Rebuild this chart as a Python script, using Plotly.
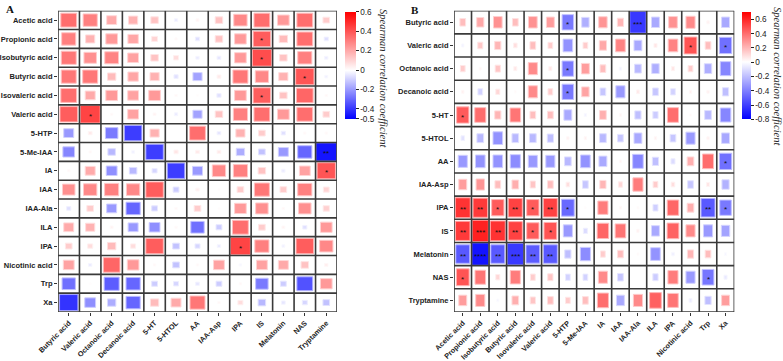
import plotly.graph_objects as go

# ---------------- Panel A data ----------------
a_rows = ["Acetic acid", "Propionic acid", "Isobutyric acid", "Butyric acid", "Isovaleric acid",
          "Valeric acid", "5-HTP", "5-Me-IAA", "IA", "IAA", "IAA-Ala", "ILA", "IPA",
          "Nicotinic acid", "Trp", "Xa"]
a_cols = ["Butyric acid", "Valeric acid", "Octanoic acid", "Decanoic acid", "5-HT", "5-HTOL",
          "AA", "IAA-Asp", "IPA", "IS", "Melatonin", "NAS", "Tryptamine"]
a_values = [
    [0.34, 0.30, 0.20, 0.18, 0.14, -0.04, 0.03, 0.14, 0.28, 0.34, 0.24, 0.34, 0.12],
    [0.30, 0.18, 0.24, 0.21, 0.10, 0.02, -0.06, 0.14, 0.24, 0.38, 0.16, 0.34, -0.06],
    [0.32, 0.26, 0.29, 0.22, 0.14, 0.08, -0.04, -0.05, 0.24, 0.42, 0.14, 0.30, -0.04],
    [0.32, 0.32, 0.16, 0.21, 0.18, -0.06, -0.18, 0.05, 0.32, 0.28, 0.18, 0.40, -0.03],
    [0.34, 0.20, 0.24, 0.22, 0.24, 0.02, 0.01, -0.06, 0.24, 0.38, 0.14, 0.36, 0.02],
    [0.38, 0.44, 0.02, 0.22, 0.03, -0.04, -0.18, 0.14, 0.30, 0.34, 0.24, 0.34, 0.12],
    [-0.20, 0.05, -0.26, -0.38, 0.18, 0.00, 0.34, -0.05, 0.18, 0.12, -0.06, 0.02, 0.02],
    [-0.24, 0.02, -0.14, -0.03, -0.38, 0.06, 0.05, 0.05, -0.16, -0.12, -0.20, -0.30, -0.46],
    [0.02, 0.20, -0.22, -0.14, -0.08, -0.38, -0.20, 0.28, 0.30, 0.14, -0.04, 0.22, 0.40],
    [0.26, 0.28, 0.30, 0.28, 0.38, -0.10, 0.04, 0.01, 0.12, 0.32, 0.12, 0.30, 0.10],
    [-0.06, 0.12, -0.20, -0.30, -0.10, 0.02, 0.12, 0.01, 0.24, 0.26, 0.02, 0.26, 0.11],
    [0.20, 0.18, 0.03, -0.20, -0.22, 0.02, -0.28, -0.10, 0.34, 0.12, 0.03, -0.06, 0.24],
    [0.12, 0.08, 0.16, 0.08, 0.38, -0.12, -0.08, -0.04, 0.44, 0.30, -0.03, 0.38, 0.28],
    [0.22, -0.04, 0.36, 0.24, 0.02, -0.12, 0.02, 0.22, -0.02, 0.22, 0.20, 0.14, 0.04],
    [-0.28, 0.01, -0.32, -0.30, -0.10, -0.08, -0.05, -0.10, 0.02, -0.26, -0.10, -0.34, 0.24],
    [-0.40, -0.22, -0.16, -0.30, 0.16, 0.20, 0.32, 0.02, 0.08, -0.14, -0.05, -0.08, -0.12],
]
a_stars = [(1, 9, "*"), (2, 9, "*"), (3, 11, "*"), (4, 9, "*"), (5, 1, "*"),
           (7, 12, "**"), (8, 12, "*"), (12, 8, "*")]
a_range = [-0.5, 0.6]
a_ticks = [0.6, 0.4, 0.2, 0, -0.2, -0.4, -0.5]

# ---------------- Panel B data ----------------
b_rows = ["Butyric acid", "Valeric acid", "Octanoic acid", "Decanoic acid", "5-HT", "5-HTOL",
          "AA", "IAA-Asp", "IPA", "IS", "Melatonin", "NAS", "Tryptamine"]
b_cols = ["Acetic acid", "Propionic acid", "Isobutyric acid", "Butyric acid", "Isovaleric acid",
          "Valeric acid", "5-HTP", "5-Me-IAA", "IA", "IAA", "IAA-Ala", "ILA", "IPA",
          "Nicotinic acid", "Trp", "Xa"]
b_values = [
    [0.18, 0.24, 0.30, 0.18, 0.30, 0.27, -0.42, -0.25, 0.29, 0.20, -0.62, -0.27, 0.30, 0.32, 0.04, -0.27],
    [-0.04, 0.15, 0.20, 0.09, 0.18, 0.14, -0.34, 0.14, 0.24, 0.34, -0.27, 0.07, 0.34, 0.47, 0.18, -0.45],
    [0.14, 0.03, 0.16, 0.07, 0.32, 0.07, -0.42, 0.27, 0.18, -0.04, -0.22, -0.25, 0.07, 0.14, -0.25, -0.38],
    [0.04, -0.14, 0.11, 0.02, 0.32, 0.14, -0.42, 0.25, -0.18, -0.32, 0.06, -0.18, -0.14, 0.04, 0.04, -0.20],
    [0.45, 0.40, 0.20, 0.38, 0.18, 0.18, -0.27, -0.04, 0.22, 0.03, -0.20, -0.16, 0.40, 0.02, -0.22, -0.38],
    [-0.09, -0.22, -0.34, -0.22, -0.22, -0.20, 0.04, 0.04, -0.22, -0.18, -0.27, 0.04, -0.18, -0.32, 0.04, -0.27],
    [-0.32, -0.34, -0.34, -0.36, -0.32, -0.32, -0.22, -0.34, -0.27, 0.03, -0.38, -0.20, -0.11, 0.22, 0.40, -0.45],
    [0.27, 0.29, 0.18, 0.22, 0.16, 0.18, 0.09, -0.18, 0.20, 0.11, 0.36, 0.14, 0.09, -0.18, 0.07, -0.24],
    [0.56, 0.54, 0.45, 0.52, 0.45, 0.52, -0.47, 0.01, 0.36, 0.03, 0.02, -0.15, 0.42, 0.22, -0.52, -0.42],
    [0.54, 0.61, 0.56, 0.52, 0.45, 0.47, -0.32, -0.11, 0.42, 0.38, 0.04, -0.27, 0.43, 0.32, -0.32, -0.29],
    [-0.52, -0.74, -0.52, -0.62, -0.51, -0.52, -0.20, -0.36, 0.14, 0.18, 0.02, -0.34, -0.05, 0.20, 0.18, -0.03],
    [0.47, 0.38, 0.11, 0.36, 0.14, 0.16, -0.14, -0.14, 0.32, -0.18, 0.00, -0.16, 0.36, -0.32, -0.43, -0.07],
    [0.27, 0.32, -0.03, 0.22, 0.16, 0.18, 0.14, 0.18, 0.40, -0.27, 0.32, 0.43, 0.38, -0.06, -0.20, 0.27],
]
b_stars = [(0, 6, "*"), (0, 10, "***"), (1, 13, "*"), (1, 15, "*"), (2, 6, "*"), (3, 6, "*"),
           (4, 0, "*"), (6, 15, "*"),
           (8, 0, "**"), (8, 1, "**"), (8, 2, "*"), (8, 3, "**"), (8, 4, "*"), (8, 5, "**"),
           (8, 6, "*"), (8, 14, "**"), (8, 15, "*"),
           (9, 0, "**"), (9, 1, "***"), (9, 2, "**"), (9, 3, "**"), (9, 4, "*"), (9, 5, "*"),
           (10, 0, "**"), (10, 1, "****"), (10, 2, "**"), (10, 3, "***"), (10, 4, "**"), (10, 5, "**"),
           (11, 0, "*"), (11, 14, "*")]
b_range = [-0.8, 0.7]
b_ticks = [0.6, 0.4, 0.2, 0, -0.2, -0.4, -0.6, -0.8]

W, H = 783, 361
FONT = "Liberation Sans, Arial, sans-serif"
SERIF = "Liberation Serif, Times New Roman, serif"


def colorscale(zmin, zmax):
    z0 = -zmin / (zmax - zmin)
    return [[0, "rgb(0,0,255)"], [z0, "rgb(255,255,255)"], [1, "rgb(255,0,0)"]]


def rgb_for(v, zmin, zmax):
    v = max(zmin, min(zmax, v))
    if v >= 0:
        t = v / zmax
        g = 255 * (1 - t)
        return (255, g, g)
    t = v / zmin
    g = 255 * (1 - t)
    return (g, g, 255)


def css(c):
    return "rgb(%d,%d,%d)" % tuple(round(x) for x in c)


def lighten(c, f):
    return tuple(x + (255 - x) * f for x in c)


fig = go.Figure()
shapes = []
annotations = []


def build_panel(rows, cols, values, stars, zrange, ticks, xa, ya, size_ref, cb_x, cb_thick, cb_top, cb_len):
    nr, nc = len(rows), len(cols)
    xref, yref = xa, ya
    # grid lines
    for c in range(nc + 1):
        shapes.append(dict(type="line", xref=xref, yref=yref, x0=c - 0.5, x1=c - 0.5,
                           y0=-0.5, y1=nr - 0.5, line=dict(color="#3a3a3a", width=1.6), layer="above"))
    for r in range(nr + 1):
        shapes.append(dict(type="line", xref=xref, yref=yref, x0=-0.5, x1=nc - 0.5,
                           y0=r - 0.5, y1=r - 0.5, line=dict(color="#3a3a3a", width=1.6), layer="above"))
    # marks
    for r in range(nr):
        for c in range(nc):
            v = values[r][c]
            s = min(1.0, 0.08 + abs(v) / size_ref)
            h = 0.5 * s * 0.97
            col = rgb_for(v, zrange[0], zrange[1])
            shapes.append(dict(type="rect", xref=xref, yref=yref,
                               x0=c - h, x1=c + h, y0=r - h, y1=r + h,
                               fillcolor=css(col),
                               line=dict(color=css(lighten(col, 0.55)), width=1),
                               layer="below"))
    for (r, c, st) in stars:
        annotations.append(dict(xref=xref, yref=yref, x=c, y=r, text=st, showarrow=False,
                                font=dict(family=FONT, size=8, color="#111"), yshift=-2))
    # colorbar carrier trace
    fig.add_trace(go.Scatter(
        x=[0], y=[0], xaxis=xa, yaxis=ya, mode="markers", hoverinfo="skip", showlegend=False,
        marker=dict(size=0.1, opacity=0, color=[zrange[0]], cmin=zrange[0], cmax=zrange[1],
                    colorscale=colorscale(*zrange), showscale=True,
                    colorbar=dict(x=cb_x, xanchor="left", xpad=0, ypad=0,
                                  y=cb_top, yanchor="top", len=cb_len, lenmode="fraction",
                                  thickness=cb_thick, outlinewidth=0,
                                  tickmode="array", tickvals=ticks,
                                  ticktext=[("%g" % t) for t in ticks],
                                  ticks="outside", ticklen=3, tickwidth=1, tickcolor="#222",
                                  tickfont=dict(family=FONT, size=8.2, color="#222")))))


build_panel(a_rows, a_cols, a_values, a_stars, a_range, a_ticks, "x", "y", 0.5,
            345 / W, 10.7, 1 - 11.7 / H, 106.6 / H)
build_panel(b_rows, b_cols, b_values, b_stars, b_range, b_ticks, "x2", "y2", 0.7,
            742.3 / W, 9.4, 1 - 12.3 / H, 106.7 / H)

ydom = [1 - 312 / H, 1 - 10.7 / H]
ytickfont = dict(family=FONT, size=7.5, color="#222", weight="bold")
xtickfont = dict(family=FONT, size=7.3, color="#222", weight="bold")
axis_common = dict(showgrid=False, zeroline=False, showline=False, ticks="outside", ticklen=3,
                   tickwidth=1, tickcolor="#333", fixedrange=True, tickmode="array",
                   automargin=False)

fig.update_layout(
    width=W, height=H, margin=dict(l=0, r=0, t=0, b=0, autoexpand=False),
    paper_bgcolor="white", plot_bgcolor="white",
    xaxis=dict(domain=[58 / W, 337 / W], range=[-0.5, len(a_cols) - 0.5],
               tickvals=list(range(len(a_cols))), ticktext=a_cols, tickangle=-45, anchor="y",
               tickfont=xtickfont, **axis_common),
    yaxis=dict(domain=ydom, range=[len(a_rows) - 0.5, -0.5],
               tickvals=list(range(len(a_rows))), ticktext=a_rows, anchor="x",
               tickfont=ytickfont, **axis_common),
    xaxis2=dict(domain=[454 / W, 734.3 / W], range=[-0.5, len(b_cols) - 0.5],
                tickvals=list(range(len(b_cols))), ticktext=b_cols, tickangle=-45, anchor="y2",
                tickfont=xtickfont, **axis_common),
    yaxis2=dict(domain=ydom, range=[len(b_rows) - 0.5, -0.5],
                tickvals=list(range(len(b_rows))), ticktext=b_rows, anchor="x2",
                tickfont=ytickfont, **axis_common),
    shapes=shapes,
)

annotations += [
    dict(xref="paper", yref="paper", x=4 / W, y=1 - 1 / H, xanchor="left", yanchor="top",
         text="<b>A</b>", showarrow=False, font=dict(family=SERIF, size=11, color="#111")),
    dict(xref="paper", yref="paper", x=409 / W, y=1 - 2 / H, xanchor="left", yanchor="top",
         text="<b>B</b>", showarrow=False, font=dict(family=SERIF, size=11, color="#111")),
    dict(xref="paper", yref="paper", x=383 / W, y=1 - 78 / H, xanchor="center", yanchor="middle",
         text="Spearman correlation coefficient", textangle=90, showarrow=False,
         font=dict(family=SERIF, size=10.5, color="#222", style="italic")),
    dict(xref="paper", yref="paper", x=778 / W, y=1 - 76 / H, xanchor="center", yanchor="middle",
         text="Spearman correlation coefficient", textangle=90, showarrow=False,
         font=dict(family=SERIF, size=10.5, color="#222", style="italic")),
]
fig.update_layout(annotations=annotations)

fig.write_html("out.html",
               config={"displayModeBar": False, "staticPlot": True},
               post_script="document.body.style.margin='0';document.body.style.padding='0';"
                           "document.body.style.overflow='hidden';")
